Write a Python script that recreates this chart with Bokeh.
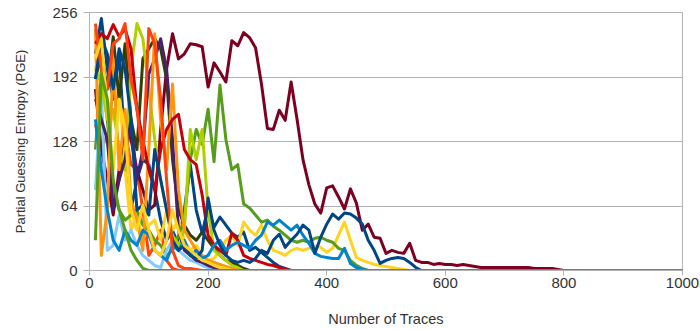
from bokeh.plotting import figure
from bokeh.models import Range1d, FixedTicker
from bokeh.embed import file_html
from bokeh.resources import INLINE

# Number of traces (x): 10, 20, ..., 1000
traces = list(range(10, 1001, 10))

# Partial guessing entropy per key byte; values not listed (after the last one) read as 0
byte_01 = [215, 250, 200, 170, 215, 120, 60, 90, 110, 105, 80, 50, 30, 40, 25, 60, 105, 60, 37, 63,
           43, 53, 45, 37, 33, 38, 20, 23, 18, 13, 8, 4, 2, 0]
byte_02 = [145, 120, 135, 70, 90, 140, 105, 100, 60, 15, 25, 40, 10, 2, 0]
byte_03 = [200, 220, 170, 150, 180, 100, 40, 55, 30, 45, 50, 30, 60, 40, 50, 30, 20, 25, 15, 10,
           12, 20, 30, 35, 25, 48, 40, 35, 45, 30, 20, 18, 15, 20, 22, 20, 22, 24, 23, 18,
           22, 35, 48, 30, 13, 10, 8, 6, 5, 4, 3, 2, 1, 0]
byte_04 = [120, 200, 150, 80, 60, 50, 55, 60, 45, 40, 30, 25, 15, 20, 35, 50, 110, 140, 125, 160,
           108, 184, 130, 100, 105, 66, 62, 55, 48, 50, 44, 40, 35, 30, 28, 30, 28, 32, 33, 30,
           28, 22, 20, 10, 5, 2, 0]
byte_05 = [180, 120, 90, 55, 100, 150, 130, 100, 80, 60, 65, 140, 200, 235, 210, 215, 225, 224, 222, 182,
           206, 197, 187, 228, 223, 236, 231, 221, 185, 141, 140, 159, 149, 187, 150, 110, 85, 66, 57, 82,
           84, 73, 61, 81, 67, 40, 46, 33, 32, 17, 20, 18, 17, 27, 10, 8, 8, 6, 7, 6,
           6, 5, 6, 5, 4, 3, 3, 3, 3, 3, 3, 3, 3, 3, 2, 2, 2, 2, 1, 0]
byte_06 = [80, 180, 20, 25, 55, 30, 40, 25, 15, 10, 5, 3, 20, 30, 20, 15, 10, 8, 5, 3, 2, 0]
byte_07 = [190, 215, 180, 232, 170, 225, 150, 120, 210, 220, 230, 220, 190, 110, 60, 45, 35, 30, 38, 30,
           22, 15, 10, 8, 5, 2, 0]
byte_08 = [200, 185, 150, 160, 120, 100, 200, 245, 230, 180, 130, 90, 60, 35, 25, 40, 140, 110, 140, 60,
           20, 15, 10, 5, 3, 0]
byte_09 = [170, 150, 130, 60, 90, 110, 150, 90, 120, 195, 210, 230, 200, 130, 40, 20, 15, 10, 8, 5,
           3, 2, 0]
byte_10 = [240, 15, 60, 210, 100, 160, 70, 50, 20, 120, 235, 150, 100, 185, 80, 40, 30, 20, 15, 10,
           8, 6, 4, 2, 0]
byte_11 = [225, 235, 230, 244, 232, 240, 220, 160, 130, 100, 80, 120, 140, 150, 155, 120, 110, 105, 75, 35,
           25, 20, 15, 37, 30, 15, 12, 10, 8, 6, 5, 3, 1, 0]
byte_12 = [150, 100, 60, 30, 20, 40, 30, 25, 40, 35, 20, 15, 10, 25, 20, 30, 15, 20, 12, 15,
           25, 30, 20, 25, 28, 25, 22, 30, 35, 48, 45, 50, 45, 40, 45, 35, 27, 17, 14, 13,
           12, 12, 22, 7, 3, 1, 0]
byte_13 = [190, 230, 215, 180, 220, 200, 150, 60, 65, 55, 120, 90, 60, 30, 20, 25, 15, 12, 20, 72,
           40, 25, 15, 10, 8, 10, 8, 12, 20, 17, 30, 36, 23, 30, 36, 45, 40, 17, 33, 46,
           56, 51, 57, 56, 52, 46, 30, 20, 7, 10, 12, 13, 12, 8, 3, 0]
byte_14 = [245, 200, 180, 225, 230, 245, 190, 160, 110, 240, 225, 170, 90, 20, 5, 2, 2, 1, 0]
byte_15 = [210, 230, 160, 100, 170, 140, 60, 40, 65, 40, 20, 15, 30, 60, 40, 25, 20, 15, 10, 8,
           5, 3, 2, 0]
byte_16 = [30, 195, 170, 90, 60, 40, 20, 10, 2, 0]

series = [byte_01, byte_02, byte_03, byte_04, byte_05, byte_06, byte_07, byte_08,
          byte_09, byte_10, byte_11, byte_12, byte_13, byte_14, byte_15, byte_16]

colors = ["#004586", "#ff420e", "#ffd320", "#579d1c", "#7e0021", "#83caff", "#314004", "#aecf00",
          "#4b1f6f", "#ff950e", "#c5000b", "#0084d1", "#004586", "#ff420e", "#ffd320", "#579d1c"]

y_ticks = [0, 64, 128, 192, 256]
x_ticks = [0, 200, 400, 600, 800, 1000]

p = figure(width=700, height=329, output_backend="svg", toolbar_location=None,
           x_range=Range1d(0, 1000), y_range=Range1d(0, 256),
           min_border_left=89, min_border_right=18, min_border_top=12, min_border_bottom=59)

for vals, col in zip(series, colors):
    ys = list(vals) + [0] * (len(traces) - len(vals))
    p.line(traces, ys, line_color=col, line_width=3, line_join="round")

font = "Liberation Sans"
grid_col = "#b3b3b3"

p.xaxis.ticker = FixedTicker(ticks=x_ticks)
p.yaxis.ticker = FixedTicker(ticks=y_ticks)
p.xaxis.minor_tick_line_color = None
p.yaxis.minor_tick_line_color = None
p.xgrid.grid_line_color = None
p.ygrid.grid_line_color = grid_col
p.ygrid.grid_line_width = 1
p.outline_line_color = grid_col

for ax in (p.xaxis, p.yaxis):
    ax.axis_line_color = grid_col
    ax.major_tick_line_color = grid_col
    ax.major_tick_in = 0
    ax.major_tick_out = 6
    ax.major_label_text_font = font
    ax.major_label_text_font_size = "15px"
    ax.major_label_text_color = "#333333"
    ax.axis_label_text_font = font
    ax.axis_label_text_font_style = "normal"
    ax.axis_label_text_color = "#333333"

p.xaxis.axis_label = "Number of Traces"
p.yaxis.axis_label = "Partial Guessing Entropy (PGE)"
p.xaxis.axis_label_text_font_size = "14.5px"
p.yaxis.axis_label_text_font_size = "13px"
p.xaxis.major_tick_out = 5
p.xaxis.major_label_standoff = 2
p.yaxis.major_label_standoff = 6
p.xaxis.axis_label_standoff = 20
p.yaxis.axis_label_standoff = 21

open("out.html", "w").write(file_html(p, INLINE))
